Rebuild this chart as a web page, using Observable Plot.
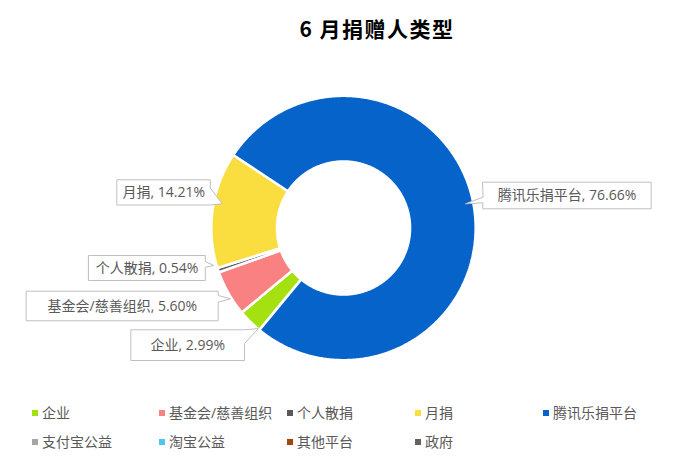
<!DOCTYPE html>
<html>
<head>
<meta charset="utf-8">
<script src="https://cdn.jsdelivr.net/npm/d3@7"></script>
<script src="https://cdn.jsdelivr.net/npm/@observablehq/plot@0.6"></script>
<style>
  html, body { margin: 0; padding: 0; background: #fff; }
  #root { position: relative; width: 700px; height: 470px; overflow: hidden; font-family: "Open Sans", "Noto Sans CJK SC", sans-serif; }
  #title { position: absolute; left: 377px; top: 12px; transform: translateX(-50%); white-space: nowrap;
           font-family: "Noto Sans CJK SC", sans-serif; font-weight: bold; font-size: 21px; letter-spacing: 1.5px; color: #000; line-height: 32px; }
  #chart { position: absolute; left: 0; top: 50px; }
  .lg { position: absolute; font-size: 14px; color: #595959; line-height: 20px; white-space: nowrap; }
  .lg i { position: absolute; left: 0; top: 7px; width: 6px; height: 6px; }
  .lg span { position: absolute; left: 10px; top: 0; }
</style>
</head>
<body>
<div id="root">
  <div id="title">6 月捐赠人类型</div>
  <div id="chart"></div>
  <div id="legend"></div>
</div>
<script>
// ---- data ----
const categories = ["企业", "基金会/慈善组织", "个人散捐", "月捐", "腾讯乐捐平台", "支付宝公益", "淘宝公益", "其他平台", "政府"];
const shares = [2.99, 5.60, 0.54, 14.21, 76.66, 0, 0, 0, 0];
const colors = ["#A5E010", "#F98181", "#595959", "#FADD3F", "#0563C9", "#A5A5A5", "#4FC5F2", "#9E480E", "#636363"];

// ---- layout (page pixels) ----
const W = 700, TOP = 50, H = 335;
const cx = 343, cy = 227.5, R = 132.2, R0 = 66.5, startDeg = 219.5;

// label callout boxes: [x1, y1, x2, y2], tail side, tail attach points, tip
const callouts = {
  "企业":          {box: [130.7, 329.3, 244, 360], side: "right", a: 329.3, b: 343, tip: [258, 328]},
  "基金会/慈善组织": {box: [26, 290.7, 217.7, 320.3], side: "right", a: 295, b: 301.7, tip: [230, 298.3]},
  "个人散捐":       {box: [88.3, 255, 204.8, 280], side: "right", a: 261, b: 266.7, tip: [213.3, 265]},
  "月捐":          {box: [116.7, 179.3, 209.8, 204.5], side: "right", a: 187.5, b: 204.5, tip: [221.7, 203.3]},
  "腾讯乐捐平台":    {box: [482.3, 181.7, 650.7, 208.3], side: "left", a: 196.7, b: 202.3, tip: [465, 203.3]}
};

// ---- build donut slice polygons from the shares ----
const slices = [];
let acc = 0;
shares.forEach((v, i) => {
  if (v <= 0) return;
  const a0 = startDeg + acc / 100 * 360;
  const a1 = startDeg + (acc + v) / 100 * 360;
  acc += v;
  const n = Math.max(2, Math.ceil((a1 - a0) / 0.5));
  for (let k = 0; k <= n; k++) {
    const a = (a0 + (a1 - a0) * k / n) * Math.PI / 180;
    slices.push({cat: categories[i], x: cx + R * Math.sin(a), y: cy - R * Math.cos(a)});
  }
  for (let k = n; k >= 0; k--) {
    const a = (a0 + (a1 - a0) * k / n) * Math.PI / 180;
    slices.push({cat: categories[i], x: cx + R0 * Math.sin(a), y: cy - R0 * Math.cos(a)});
  }
});

// ---- callouts ----
const calloutPts = [];
const labels = [];
categories.forEach((c, i) => {
  const co = callouts[c];
  if (!co || shares[i] <= 0) return;
  const [x1, y1, x2, y2] = co.box;
  let pts;
  if (co.side === "right") {
    pts = [[x1, y1], [x2, y1], [x2, co.a], co.tip, [x2, co.b], [x2, y2], [x1, y2]];
  } else {
    pts = [[x1, y1], [x2, y1], [x2, y2], [x1, y2], [x1, co.b], co.tip, [x1, co.a]];
  }
  pts.forEach(([x, y]) => calloutPts.push({id: c, x, y}));
  labels.push({x: (x1 + x2) / 2, y: (y1 + y2) / 2 + 0.5, text: `${c}, ${shares[i].toFixed(2)}%`});
});

const chart = Plot.plot({
  width: W,
  height: H,
  margin: 0,
  x: {domain: [0, W], range: [0, W], axis: null},
  y: {domain: [TOP, TOP + H], range: [0, H], axis: null},
  color: {type: "ordinal", domain: categories, range: colors},
  style: {background: "transparent", overflow: "visible"},
  marks: [
    Plot.line(slices, {x: "x", y: "y", z: "cat", fill: "cat", stroke: "white", strokeWidth: 2.6, strokeLinejoin: "miter", curve: "linear-closed"}),
    Plot.line(calloutPts, {x: "x", y: "y", z: "id", fill: "white", stroke: "#BFBFBF", strokeWidth: 1, curve: "linear-closed"}),
    Plot.text(labels, {x: "x", y: "y", text: "text", fill: "#595959", fontSize: 14, fontFamily: "'Open Sans', 'Noto Sans CJK SC', sans-serif"})
  ]
});
document.getElementById("chart").appendChild(chart);

// ---- legend ----
const colX = [32, 159, 287, 415, 543];
const rowY = [403, 432];
const legend = document.getElementById("legend");
categories.forEach((c, i) => {
  const d = document.createElement("div");
  d.className = "lg";
  d.style.left = colX[i % 5] + "px";
  d.style.top = rowY[Math.floor(i / 5)] + "px";
  d.innerHTML = `<i style="background:${colors[i]}"></i><span>${c}</span>`;
  legend.appendChild(d);
});
</script>
</body>
</html>
